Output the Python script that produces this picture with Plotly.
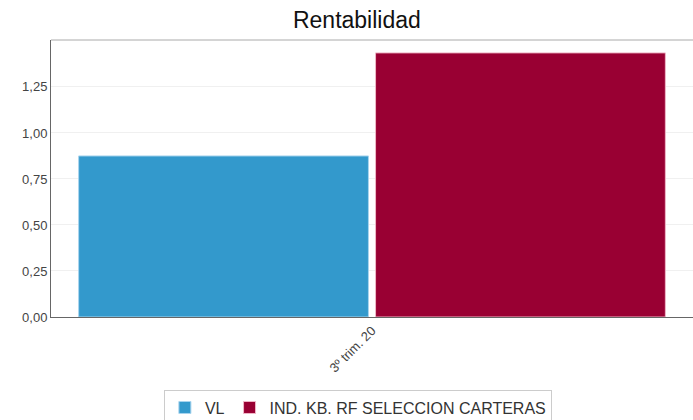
import plotly.graph_objects as go

categories = ["3º trim. 20"]
series_names = ["VL", "IND. KB. RF SELECCION CARTERAS"]
vl_values = [0.875]
ind_values = [1.435]
tick_vals = [0, 0.25, 0.5, 0.75, 1.0, 1.25]
tick_text = ["0,00", "0,25", "0,50", "0,75", "1,00", "1,25"]

fig = go.Figure()
fig.add_trace(go.Bar(x=categories, y=vl_values, name=series_names[0],
                     marker=dict(color="#3399cc", line=dict(color="#a8d4ee", width=1))))
fig.add_trace(go.Bar(x=categories, y=ind_values, name=series_names[1],
                     marker=dict(color="#990033", line=dict(color="#f0b8c8", width=1))))

fig.update_layout(
    width=693, height=420,
    margin=dict(l=51, r=0, t=40, b=103, autoexpand=False),
    paper_bgcolor="white", plot_bgcolor="white",
    font=dict(family="Liberation Sans, Arial, sans-serif", size=13, color="#444"),
    title=dict(text="Rentabilidad", x=0.515, xanchor="center", y=0.952, yanchor="middle",
               font=dict(size=23, color="#111")),
    barmode="group", bargap=0.075, bargroupgap=0.024,
    showlegend=True,
    legend=dict(orientation="h", x=0.478, xanchor="center", y=-0.262, yanchor="top",
                bordercolor="#cccccc", borderwidth=1, font=dict(size=16, color="#333"),
                itemwidth=30, tracegroupgap=0),
    xaxis=dict(tickangle=-45, showline=True, linecolor="#666", linewidth=1,
               ticks="", tickfont=dict(size=13, color="#444")),
    yaxis=dict(range=[0, 1.505], tickvals=tick_vals, ticktext=tick_text,
               showgrid=True, gridcolor="#f0f0f0", showline=True, linecolor="#666",
               linewidth=1, zeroline=False, ticks="", tickfont=dict(size=13, color="#444")),
    shapes=[dict(type="line", xref="paper", yref="paper", x0=0, x1=1, y0=1, y1=1,
                 line=dict(color="#aaaaaa", width=1))],
)

fig.write_html("out.html")
